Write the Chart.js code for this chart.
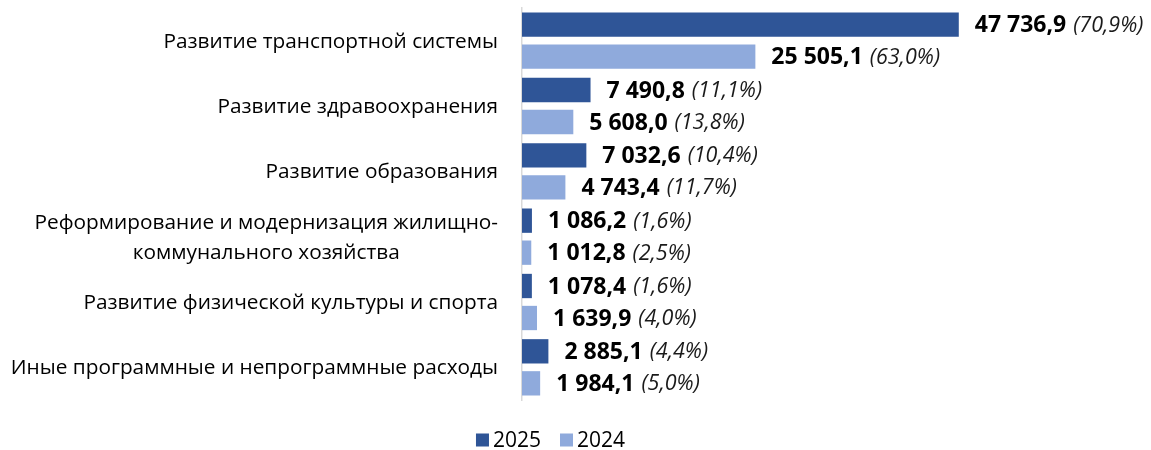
<!DOCTYPE html>
<html>
<head>
<meta charset="utf-8">
<script src="https://cdn.jsdelivr.net/npm/chart.js@4"></script>
<style>
  html, body { margin: 0; padding: 0; background: #fff; }
  #wrap { width: 1151px; height: 450px; }
</style>
</head>
<body>
<div id="wrap"><canvas id="chart"></canvas></div>
<script>
const categories = [
  ["Развитие транспортной системы"],
  ["Развитие здравоохранения"],
  ["Развитие образования"],
  ["Реформирование и модернизация жилищно-", "коммунального хозяйства"],
  ["Развитие физической культуры и спорта"],
  ["Иные программные и непрограммные расходы"],
];
const values2025 = [47736.9, 7490.8, 7032.6, 1086.2, 1078.4, 2885.1];
const shares2025 = [70.9, 11.1, 10.4, 1.6, 1.6, 4.4];
const values2024 = [25505.1, 5608.0, 4743.4, 1012.8, 1639.9, 1984.1];
const shares2024 = [63.0, 13.8, 11.7, 2.5, 4.0, 5.0];

const FONT = "'Open Sans', sans-serif";

const fmt = function (v) {
  const parts = v.toFixed(1).split(".");
  return parts[0].replace(/\B(?=(\d{3})+(?!\d))/g, " ") + "," + parts[1];
};
const pct = (p) => "(" + p.toFixed(1).replace(".", ",") + "%)";

// value labels: bold number + italic share
const valueLabels = {
  id: "valueLabels",
  afterDatasetsDraw(chart) {
    const ctx = chart.ctx;
    ctx.save();
    ctx.textBaseline = "middle";
    ctx.textAlign = "left";
    chart.data.datasets.forEach((ds, di) => {
      chart.getDatasetMeta(di).data.forEach((bar, i) => {
        let x = bar.x + 16;
        const num = fmt(ds.data[i]);
        ctx.fillStyle = "#000";
        ctx.font = "bold 23px " + FONT;
        ctx.fillText(num, x, bar.y + 1);
        x += ctx.measureText(num).width + 7;
        ctx.fillStyle = "#1a1a1a";
        ctx.font = "italic 21.5px " + FONT;
        ctx.fillText(pct(ds.shares[i]), x, bar.y + 1);
      });
    });
    ctx.restore();
  },
};

// category labels, right aligned; wrapped lines centred on each other
const catLabels = {
  id: "catLabels",
  afterDraw(chart) {
    const ctx = chart.ctx;
    const y = chart.scales.y;
    const right = chart.chartArea.left - 24;
    ctx.save();
    ctx.font = "20.8px " + FONT;
    ctx.fillStyle = "#000";
    ctx.textBaseline = "middle";
    categories.forEach((lines, i) => {
      const cy = y.getPixelForTick(i) + 1;
      const lh = 30;
      const widest = Math.max(...lines.map((l) => ctx.measureText(l).width));
      const cx = right - widest / 2;
      ctx.textAlign = lines.length > 1 ? "center" : "right";
      lines.forEach((l, k) => {
        const ly = cy + (k - (lines.length - 1) / 2) * lh;
        ctx.fillText(l, lines.length > 1 ? cx : right, ly);
      });
    });
    ctx.restore();
  },
};

// legend below the plot, small square then year
const bottomLegend = {
  id: "bottomLegend",
  afterDraw(chart) {
    const ctx = chart.ctx;
    ctx.save();
    ctx.font = "21px " + FONT;
    ctx.textBaseline = "middle";
    ctx.textAlign = "left";
    const box = 13, gap = 4, between = 19;
    const items = chart.data.datasets.map((ds) => ({
      label: ds.label,
      color: ds.backgroundColor,
      w: box + gap + ctx.measureText(ds.label).width,
    }));
    const total = items.reduce((s, it) => s + it.w, 0) + between * (items.length - 1);
    let x = chart.width / 2 - 25 - total / 2;
    const y = chart.chartArea.bottom + 40;
    items.forEach((it) => {
      ctx.fillStyle = it.color;
      ctx.fillRect(x, y - box / 2, box, box);
      ctx.fillStyle = "#000";
      ctx.fillText(it.label, x + box + gap, y + 1);
      x += it.w + between;
    });
    ctx.restore();
  },
};

new Chart(document.getElementById("chart"), {
  type: "bar",
  data: {
    labels: categories.map((c) => c.join(" ")),
    datasets: [
      {
        label: "2025",
        data: values2025,
        shares: shares2025,
        backgroundColor: "#2F5597",
        borderColor: "#2F5597",
        categoryPercentage: 0.98,
        barPercentage: 0.76,
      },
      {
        label: "2024",
        data: values2024,
        shares: shares2024,
        backgroundColor: "#8FAADC",
        borderColor: "#8FAADC",
        categoryPercentage: 0.98,
        barPercentage: 0.76,
      },
    ],
  },
  options: {
    indexAxis: "y",
    responsive: true,
    maintainAspectRatio: false,
    animation: false,
    layout: { padding: { top: 8, right: 80, bottom: 50, left: 0 } },
    plugins: {
      legend: { display: false },
      tooltip: { enabled: false },
    },
    scales: {
      x: { display: false, min: 0, max: 60000 },
      y: {
        grid: { display: false, drawTicks: false },
        border: { display: true, color: "#D9D9D9", width: 1.5 },
        ticks: { display: false },
        afterFit: (scale) => { scale.width = 522; },
      },
    },
  },
  plugins: [valueLabels, catLabels, bottomLegend],
});
</script>
</body>
</html>
